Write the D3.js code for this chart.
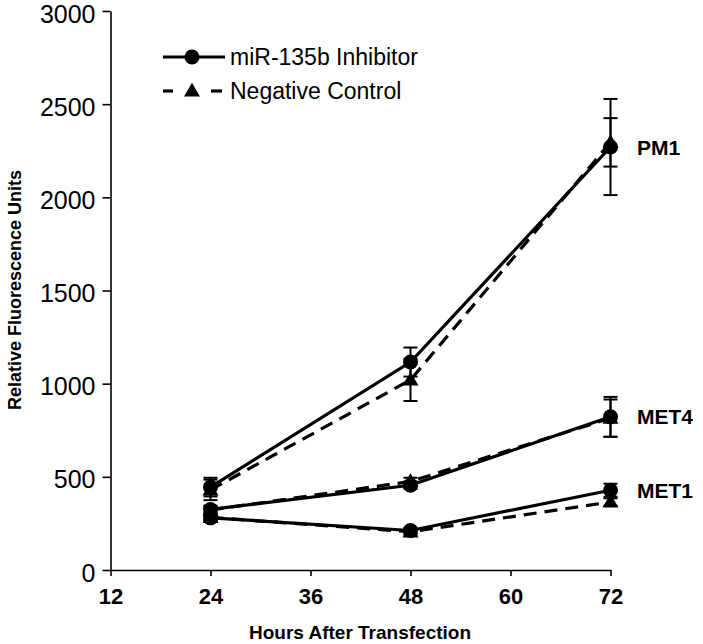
<!DOCTYPE html>
<html><head><meta charset="utf-8">
<script src="https://cdn.jsdelivr.net/npm/d3@7"></script>
<style>body{margin:0;background:#fff}svg{display:block}</style>
</head><body>
<svg id="c" width="703" height="644"></svg>
<script>
const hours = [24, 48, 72];
const xTicks = [12, 24, 36, 48, 60, 72];
const yTicks = [0, 500, 1000, 1500, 2000, 2500, 3000];
const seriesNames = ["miR-135b Inhibitor", "Negative Control"];
const cellLines = ["PM1", "MET4", "MET1"];
// values per cell line, per series
const pm1Inhibitor = [445, 1116, 2270];
const pm1InhibitorErr = [50, 78, 258];
const pm1Control = [430, 1020, 2295];
const pm1ControlErr = [55, 113, 130];
const met4Inhibitor = [325, 455, 822];
const met4InhibitorErr = [20, 20, 107];
const met4Control = [322, 475, 815];
const met4ControlErr = [20, 20, 100];
const met1Inhibitor = [280, 212, 428];
const met1InhibitorErr = [15, 15, 35];
const met1Control = [282, 205, 365];
const met1ControlErr = [15, 15, 20];

const data = [
  {line:"PM1", kind:0, v:pm1Inhibitor, e:pm1InhibitorErr},
  {line:"PM1", kind:1, v:pm1Control, e:pm1ControlErr},
  {line:"MET4", kind:0, v:met4Inhibitor, e:met4InhibitorErr},
  {line:"MET4", kind:1, v:met4Control, e:met4ControlErr},
  {line:"MET1", kind:0, v:met1Inhibitor, e:met1InhibitorErr},
  {line:"MET1", kind:1, v:met1Control, e:met1ControlErr}
];

const svg = d3.select("#c");
const x = d3.scaleLinear().domain([12, 72]).range([110.5, 610.5]);
const y = d3.scaleLinear().domain([0, 3000]).range([570, 11]);
const font = "Arial, 'Liberation Sans', sans-serif";

// axes
const yAx = svg.append("g").attr("transform","translate(110.5,0)")
  .call(d3.axisLeft(y).tickValues(yTicks).tickFormat(d3.format("d")).tickSize(8).tickSizeOuter(0).tickPadding(7));
yAx.selectAll("text").attr("font-family",font).attr("font-size",25).attr("fill","#000").attr("dy","0.44em");
const xAx = svg.append("g").attr("transform","translate(0,570)")
  .call(d3.axisBottom(x).tickValues(xTicks).tickSize(6).tickSizeOuter(0).tickPadding(12));
xAx.selectAll("text").attr("font-family",font).attr("font-size",22).attr("font-weight","bold").attr("fill","#000");
svg.selectAll(".domain, .tick line").attr("stroke","#000").attr("stroke-width",1.6);

// error bars
const g = svg.append("g");
data.forEach(s => {
  s.v.forEach((v,i) => {
    const cx = x(hours[i]);
    const e = s.e[i];
    g.append("line").attr("x1",cx).attr("x2",cx).attr("y1",y(v-e)).attr("y2",y(v+e))
      .attr("stroke","#000").attr("stroke-width",2);
    [v-e, v+e].forEach(t => g.append("line").attr("x1",cx-7).attr("x2",cx+7)
      .attr("y1",y(t)).attr("y2",y(t)).attr("stroke","#000").attr("stroke-width",2));
  });
});

// lines
const lineGen = d3.line().x((d,i)=>x(hours[i])).y(d=>y(d));
data.forEach(s => {
  g.append("path").attr("d", lineGen(s.v)).attr("fill","none").attr("stroke","#000")
    .attr("stroke-width",3.2).attr("stroke-dasharray", s.kind ? "13,8" : null);
});

// markers
const tri = d3.symbol().type(d3.symbolTriangle).size(110);
data.forEach(s => {
  s.v.forEach((v,i) => {
    if (s.kind === 0) g.append("circle").attr("cx",x(hours[i])).attr("cy",y(v)).attr("r",7.5).attr("fill","#000");
    else g.append("path").attr("d",tri()).attr("transform",`translate(${x(hours[i])},${y(v)+1})`).attr("fill","#000");
  });
});

// cell line labels
cellLines.forEach(name => {
  const s = data.find(d => d.line === name && d.kind === 0);
  svg.append("text").attr("x",637).attr("y",y(s.v[2])).attr("dy","0.36em")
    .attr("font-family",font).attr("font-size",21).attr("font-weight","bold").text(name);
});

// legend
const leg = svg.append("g");
seriesNames.forEach((n,i) => {
  const ly = 57 + i*34;
  if (i===0) {
    leg.append("line").attr("x1",163).attr("x2",225).attr("y1",ly).attr("y2",ly)
      .attr("stroke","#000").attr("stroke-width",3.2);
    leg.append("circle").attr("cx",192).attr("cy",ly).attr("r",7.5);
  } else {
    [[163,173],[211,222]].forEach(([a,b]) => leg.append("line").attr("x1",a).attr("x2",b)
      .attr("y1",ly).attr("y2",ly).attr("stroke","#000").attr("stroke-width",3.2));
    leg.append("path").attr("d",tri()).attr("transform",`translate(192,${ly+1})`);
  }
  leg.append("text").attr("x",230).attr("y",ly).attr("dy","0.36em").attr("font-family",font)
    .attr("font-size",23).text(n);
});

// axis titles
svg.append("text").attr("x",360).attr("y",639).attr("text-anchor","middle").attr("font-family",font)
  .attr("font-size",19).attr("font-weight","bold").text("Hours After Transfection");
svg.append("text").attr("transform","translate(21,290) rotate(-90)").attr("text-anchor","middle")
  .attr("font-family",font).attr("font-size",18).attr("font-weight","bold").text("Relative Fluorescence Units");
</script>
</body></html>
